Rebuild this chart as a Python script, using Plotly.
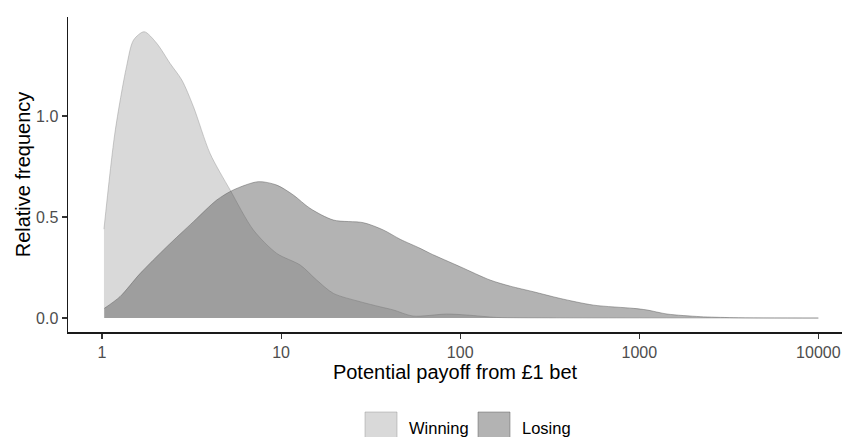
import plotly.graph_objects as go

# Winning bets: payoff (x) and relative frequency (density)
win_payoff = [1.025, 1.18, 1.37, 1.50, 1.72, 2.02, 2.40, 2.79, 3.24, 4.01, 5.19, 7.0,
              9.46, 12.8, 15.8, 19.6, 27.6, 35.6, 42.4, 54.5, 84, 109, 160, 215, 1000, 10000]
win_freq = [0.44, 0.916, 1.244, 1.376, 1.417, 1.36, 1.26, 1.178, 1.046, 0.815, 0.634, 0.436,
            0.32, 0.262, 0.188, 0.122, 0.081, 0.056, 0.04, 0.01, 0.02, 0.015, 0.003, 0.001, 0.0, 0.0]

# Losing bets
lose_payoff = [1.03, 1.26, 1.63, 2.30, 3.24, 4.37, 5.41, 7.46, 9.46, 11.7, 14.5, 19.6, 28.8,
               37.2, 46.2, 59.8, 68, 100, 147, 190, 257, 362, 556, 929, 1104, 1429, 2188,
               3350, 10000]
lose_freq = [0.048, 0.106, 0.22, 0.353, 0.477, 0.584, 0.634, 0.675, 0.658, 0.609, 0.543, 0.485,
             0.472, 0.436, 0.39, 0.345, 0.32, 0.254, 0.188, 0.158, 0.13, 0.097, 0.064, 0.048,
             0.04, 0.02, 0.007, 0.002, 0.0]

series_names = ["Winning", "Losing"]
x_ticks = [1, 10, 100, 1000, 10000]
x_tick_labels = ["1", "10", "100", "1000", "10000"]
y_ticks = [0.0, 0.5, 1.0]
y_tick_labels = ["0.0", "0.5", "1.0"]

FONT = "Liberation Sans, Arial, sans-serif"
W, H = 842, 437
ML, MR, MT = 68, 0, 17
MB = H - 332

fills = ["rgba(170,170,170,0.447)", "rgba(85,85,85,0.447)"]
lines = ["rgba(150,150,150,0.6)", "rgba(90,90,90,0.6)"]

fig = go.Figure()
for name, xs, ys, fc, lc in zip(series_names, [win_payoff, lose_payoff], [win_freq, lose_freq], fills, lines):
    fig.add_trace(go.Scatter(
        x=xs, y=ys, name=name, mode="lines", showlegend=False,
        line=dict(shape="spline", smoothing=0.8, width=0.8, color=lc),
        fill="tozeroy", fillcolor=fc, hoverinfo="skip"))

# Legend (ggplot-style large keys at the bottom), positions in page pixels
def px_to_paper_x(px):
    return (px - ML) / (W - ML - MR)

def px_to_paper_y(py):
    return (H - MB - py) / (H - MT - MB)

key_x = [(365, 397), (478, 510)]
text_x = [407, 520]
for i, name in enumerate(series_names):
    x0, x1 = key_x[i]
    fig.add_shape(type="rect", xref="paper", yref="paper",
                  x0=px_to_paper_x(x0), x1=px_to_paper_x(x1),
                  y0=px_to_paper_y(412), y1=px_to_paper_y(445),
                  fillcolor=fills[i], line=dict(color=lines[i], width=0.8), layer="above")
    fig.add_annotation(text=name, xref="paper", yref="paper",
                       x=px_to_paper_x(text_x[i]), y=px_to_paper_y(428),
                       xanchor="left", yanchor="middle", showarrow=False,
                       font=dict(family=FONT, size=16.5, color="black"))

fig.update_layout(
    width=W, height=H,
    margin=dict(l=ML, r=MR, t=MT, b=MB),
    paper_bgcolor="white", plot_bgcolor="white",
    font=dict(family=FONT, size=16, color="#4d4d4d"),
    showlegend=False,
    hovermode=False,
    xaxis=dict(type="log", range=[-0.19, 4.132], automargin=False,
               tickvals=x_ticks, ticktext=x_tick_labels,
               showgrid=False, zeroline=False,
               showline=True, linecolor="#1a1a1a", linewidth=1.5,
               ticks="outside", ticklen=5, tickcolor="#333333", tickwidth=1.2,
               tickfont=dict(family=FONT, size=16, color="#4d4d4d"),
               title=dict(text="Potential payoff from £1 bet",
                          font=dict(family=FONT, size=20, color="black"), standoff=2)),
    yaxis=dict(range=[-0.069, 1.49], automargin=False,
               tickvals=y_ticks, ticktext=y_tick_labels,
               showgrid=False, zeroline=False,
               showline=True, linecolor="#1a1a1a", linewidth=1.5,
               ticks="outside", ticklen=5, tickcolor="#333333", tickwidth=1.2,
               tickfont=dict(family=FONT, size=16, color="#4d4d4d"),
               title=dict(text="Relative frequency",
                          font=dict(family=FONT, size=20, color="black"), standoff=0)),
)

fig.write_html("out.html", config={"displayModeBar": False, "staticPlot": True},
               post_script="document.body.style.margin='0';document.body.style.overflow='hidden';")
